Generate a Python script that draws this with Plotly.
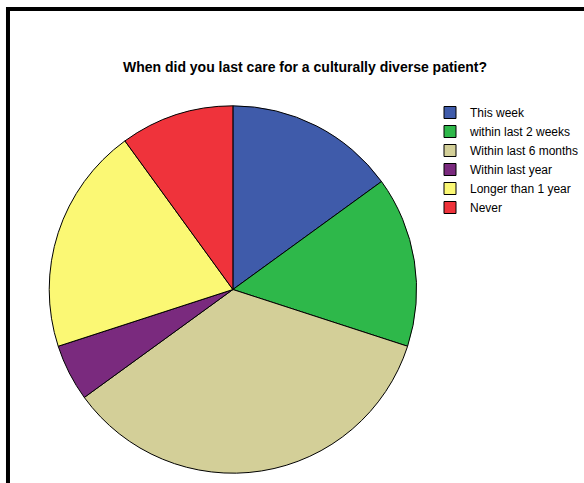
import plotly.graph_objects as go

categories = ["This week", "within last 2 weeks", "Within last 6 months",
              "Within last year", "Longer than 1 year", "Never"]
values = [15, 15, 35, 5, 20, 10]
colors = ["#3F5BAA", "#2EB84A", "#D3CF98", "#7A2A7E", "#FBF874", "#EF333B"]

W, H = 584, 483
cx, cy, r = 233.3, 289.5, 184

fig = go.Figure(go.Pie(
    labels=categories, values=values, sort=False, direction="clockwise",
    rotation=0, textinfo="none", hoverinfo="label+percent",
    marker=dict(colors=colors, line=dict(color="black", width=1)),
    domain=dict(x=[(cx - r) / W, (cx + r) / W], y=[1 - (cy + r) / H, 1 - (cy - r) / H]),
))

fig.update_layout(
    width=W, height=H, margin=dict(l=0, r=0, t=0, b=0),
    paper_bgcolor="white", plot_bgcolor="white",
    font=dict(family="Liberation Sans, Arial, sans-serif", color="black"),
    title=dict(text="<b>When did you last care for a culturally diverse patient?</b>",
               x=305 / W, xanchor="center", y=1 - 67 / H, yanchor="middle",
               font=dict(size=14, family="Liberation Sans, Arial, sans-serif", color="black")),
    legend=dict(x=431 / W, xanchor="left", y=1 - 98 / H, yanchor="top",
                font=dict(size=12, color="black"), itemwidth=30,
                bgcolor="rgba(0,0,0,0)", tracegroupgap=0),
    shapes=[dict(type="rect", xref="paper", yref="paper",
                 x0=8 / W, x1=1.1, y0=-0.1, y1=1 - 9 / H,
                 line=dict(color="black", width=4), fillcolor="rgba(0,0,0,0)")],
)

fig.write_html("out.html")
